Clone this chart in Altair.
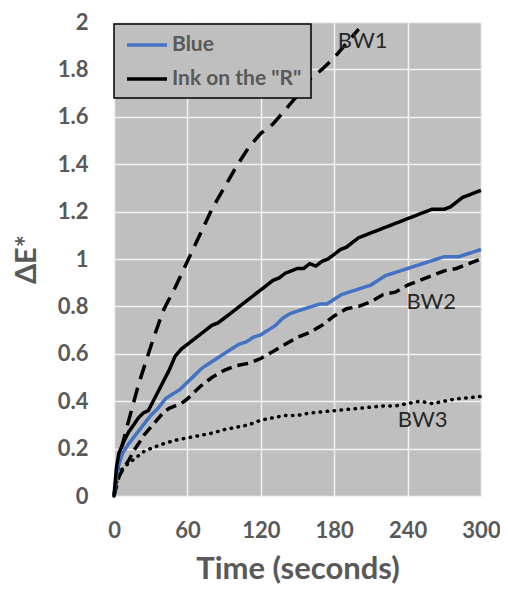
import altair as alt
import pandas as pd

# ---- data ----
blue_t = [0, 3, 7, 12, 18, 24, 30, 36, 42, 48, 54, 60, 66, 72, 78, 84, 90, 96, 102, 108, 114, 120,
          126, 132, 138, 144, 150, 156, 162, 168, 174, 180, 186, 192, 198, 204, 210, 216, 222, 228,
          234, 240, 246, 252, 258, 264, 270, 276, 282, 288, 294, 300]
blue_v = [0, 0.12, 0.18, 0.22, 0.26, 0.30, 0.34, 0.37, 0.41, 0.43, 0.45, 0.48, 0.51, 0.54, 0.56, 0.58,
          0.60, 0.62, 0.64, 0.65, 0.67, 0.68, 0.70, 0.72, 0.75, 0.77, 0.78, 0.79, 0.80, 0.81, 0.81, 0.83,
          0.85, 0.86, 0.87, 0.88, 0.89, 0.91, 0.93, 0.94, 0.95, 0.96, 0.97, 0.98, 0.99, 1.00, 1.01, 1.01,
          1.01, 1.02, 1.03, 1.04]

ink_t = [0, 2, 4, 8, 12, 16, 20, 24, 28, 32, 36, 40, 45, 50, 55, 60, 65, 70, 75, 80, 85, 90, 95, 100,
         105, 110, 115, 120, 125, 130, 135, 140, 145, 150, 155, 160, 165, 170, 175, 180, 185, 190, 195,
         200, 205, 210, 215, 220, 225, 230, 235, 240, 245, 250, 255, 260, 265, 270, 275, 280, 285, 290,
         295, 300]
ink_v = [0, 0.12, 0.18, 0.23, 0.27, 0.30, 0.33, 0.35, 0.36, 0.40, 0.44, 0.48, 0.53, 0.59, 0.62, 0.64,
         0.66, 0.68, 0.70, 0.72, 0.73, 0.75, 0.77, 0.79, 0.81, 0.83, 0.85, 0.87, 0.89, 0.91, 0.92, 0.94,
         0.95, 0.96, 0.96, 0.98, 0.97, 0.99, 1.00, 1.02, 1.04, 1.05, 1.07, 1.09, 1.10, 1.11, 1.12, 1.13,
         1.14, 1.15, 1.16, 1.17, 1.18, 1.19, 1.20, 1.21, 1.21, 1.21, 1.22, 1.24, 1.26, 1.27, 1.28, 1.29]

bw1_t = [0, 5, 10, 20, 30, 40, 50, 60, 70, 80, 90, 100, 110, 120, 130, 140, 150, 160, 170, 180, 190, 200]
bw1_v = [0, 0.18, 0.28, 0.47, 0.63, 0.78, 0.88, 0.99, 1.10, 1.21, 1.30, 1.39, 1.47, 1.53, 1.57, 1.63,
         1.69, 1.76, 1.80, 1.85, 1.91, 1.97]

bw2_t = [0, 4, 8, 12, 16, 20, 25, 30, 35, 40, 45, 50, 55, 60, 70, 80, 90, 100, 110, 120, 130, 140,
         150, 160, 170, 180, 190, 200, 210, 220, 230, 240, 250, 260, 270, 280, 290, 300]
bw2_v = [0, 0.08, 0.12, 0.15, 0.19, 0.22, 0.26, 0.29, 0.32, 0.35, 0.37, 0.38, 0.39, 0.41, 0.46, 0.50,
         0.53, 0.55, 0.56, 0.58, 0.61, 0.64, 0.67, 0.69, 0.72, 0.76, 0.79, 0.80, 0.82, 0.85, 0.86, 0.89,
         0.91, 0.93, 0.95, 0.96, 0.98, 1.00]

bw3_t = [0, 3, 6, 10, 15, 20, 25, 30, 40, 50, 60, 70, 80, 90, 100, 110, 120, 130, 140, 150, 160, 170,
         180, 190, 200, 210, 220, 230, 240, 250, 260, 270, 280, 290, 300]
bw3_v = [0, 0.08, 0.11, 0.13, 0.15, 0.17, 0.19, 0.20, 0.22, 0.235, 0.245, 0.255, 0.265, 0.28, 0.29,
         0.30, 0.32, 0.33, 0.34, 0.34, 0.35, 0.355, 0.36, 0.365, 0.37, 0.375, 0.38, 0.38, 0.39, 0.40,
         0.39, 0.40, 0.41, 0.415, 0.42]

label_text = ["BW1", "BW2", "BW3"]
label_t = [183, 239, 232]
label_v = [1.92, 0.82, 0.32]

x_ticks = [0, 60, 120, 180, 240, 300]
y_ticks = [0, 0.2, 0.4, 0.6, 0.8, 1.0, 1.2, 1.4, 1.6, 1.8, 2.0]

series_names = ["Blue", 'Ink on the "R"']
series_colors = ["#4472C4", "#000000"]

# ---- tables ----
main = pd.DataFrame(
    [{"t": t, "v": v, "series": series_names[0]} for t, v in zip(blue_t, blue_v)]
    + [{"t": t, "v": v, "series": series_names[1]} for t, v in zip(ink_t, ink_v)]
)
bw1 = pd.DataFrame({"t": bw1_t, "v": bw1_v})
bw2 = pd.DataFrame({"t": bw2_t, "v": bw2_v})
bw3 = pd.DataFrame({"t": bw3_t, "v": bw3_v})
labels = pd.DataFrame({"t": label_t, "v": label_v, "text": label_text})

FONT = "Lato"
GREY = "#595959"

x_enc = alt.X("t:Q", scale=alt.Scale(domain=[0, 300], nice=False),
              axis=alt.Axis(values=x_ticks, title="Time (seconds)"))
y_enc = alt.Y("v:Q", scale=alt.Scale(domain=[0, 2], nice=False),
              axis=alt.Axis(values=y_ticks, format="~g", title="ΔE*"))

lines = alt.Chart(main).mark_line(strokeWidth=3.5).encode(
    x=x_enc, y=y_enc,
    color=alt.Color("series:N",
                    scale=alt.Scale(domain=series_names, range=series_colors),
                    legend=alt.Legend(title=None)),
    order=alt.Order("t:Q"),
)

bw1_line = alt.Chart(bw1).mark_line(color="black", strokeWidth=3.5, strokeDash=[15, 9]).encode(x="t:Q", y="v:Q")
bw2_line = alt.Chart(bw2).mark_line(color="black", strokeWidth=3.5, strokeDash=[11, 6]).encode(x="t:Q", y="v:Q")
bw3_line = alt.Chart(bw3).mark_line(color="black", strokeWidth=3.5, strokeDash=[0.5, 6.5],
                                    strokeCap="round").encode(x="t:Q", y="v:Q")

text = alt.Chart(labels).mark_text(align="left", baseline="middle", font=FONT, fontSize=22,
                                   color="#262626").encode(x="t:Q", y="v:Q", text="text:N")

chart = alt.layer(bw1_line, bw2_line, bw3_line, lines, text).properties(
    width=367, height=474,
    autosize=alt.AutoSizeParams(type="none"),
    padding={"left": 106, "top": 14, "right": 19, "bottom": 91},
    background="white",
).configure_view(
    fill="#BFBFBF", stroke="transparent"
).configure_axis(
    grid=True, gridColor="#F2F2F2", gridWidth=1.5, domain=False, ticks=False,
    labelFont=FONT, labelFontSize=22, labelFontWeight="bold", labelColor=GREY, labelFlush=False,
    titleFont=FONT, titleFontWeight="bold", titleColor=GREY,
).configure_axisX(
    labelPadding=24, titlePadding=13, titleFontSize=31,
).configure_axisY(
    labelPadding=26, titlePadding=16, titleFontSize=29,
).configure_legend(
    orient="none", legendX=0, legendY=2,
    fillColor="#BFBFBF", strokeColor="black", strokeWidth=1.5,
    padding=9, labelFont=FONT, labelFontSize=21, labelFontWeight="bold", labelColor=GREY,
    symbolType="M-2,0H2", symbolSize=400, symbolStrokeWidth=3.5, symbolOffset=12,
    labelOffset=13, rowPadding=12,
)

chart.save("out.html", embed_options={"renderer": "svg", "actions": False})
